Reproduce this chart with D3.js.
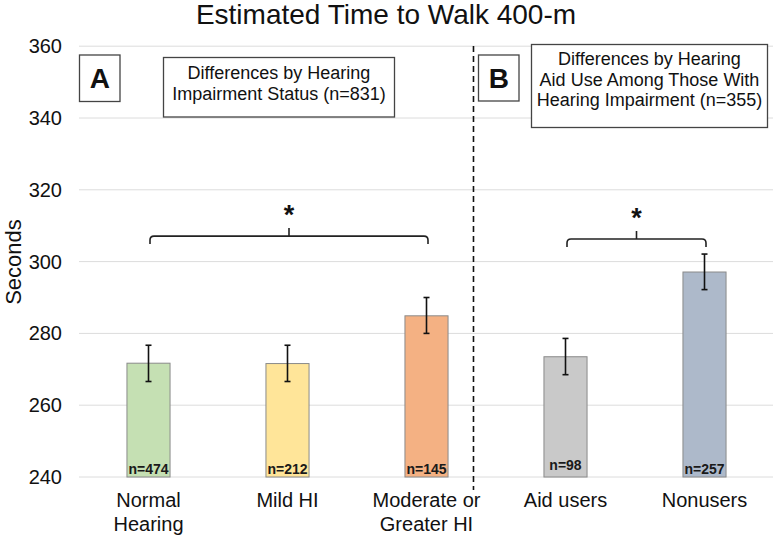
<!DOCTYPE html>
<html>
<head>
<meta charset="utf-8">
<script src="https://cdn.jsdelivr.net/npm/d3@7"></script>
<style>
  html, body { margin: 0; padding: 0; background: #fff; }
  svg { display: block; font-family: "Liberation Sans", Arial, sans-serif; }
</style>
</head>
<body>
<svg id="chart" width="776" height="537"></svg>
<script>
// ---- data ----
const categories = ["Normal Hearing", "Mild HI", "Moderate or Greater HI", "Aid users", "Nonusers"];
const categoryLines = [["Normal", "Hearing"], ["Mild HI"], ["Moderate or", "Greater HI"], ["Aid users"], ["Nonusers"]];
const means = [271.7, 271.6, 284.9, 273.5, 297.1];
const errLow = [266.6, 266.6, 280.0, 268.5, 292.2];
const errHigh = [276.7, 276.7, 290.0, 278.6, 302.1];
const sampleSizes = ["n=474", "n=212", "n=145", "n=98", "n=257"];
const barColors = ["#c5e0b3", "#ffe599", "#f4b183", "#c9c9c9", "#adb9ca"];
const yTicks = [240, 260, 280, 300, 320, 340, 360];
const comparisons = [
  { from: "Normal Hearing", to: "Moderate or Greater HI", level: 307.1, label: "*" },
  { from: "Aid users", to: "Nonusers", level: 306.3, label: "*" }
];
const title = "Estimated Time to Walk 400-m";
const yLabel = "Seconds";
const panelA = { letter: "A", lines: ["Differences by Hearing", "Impairment Status (n=831)"] };
const panelB = { letter: "B", lines: ["Differences by Hearing", "Aid Use Among Those With", "Hearing Impairment (n=355)"] };

// ---- layout ----
const svg = d3.select("#chart");
const mLeft = 79, mRight = 774, mTop = 46.2, mBottom = 477;

const x = d3.scaleBand().domain(categories).range([mLeft, mRight])
  .paddingInner(0.69).paddingOuter(0.345);
const y = d3.scaleLinear().domain([240, 360]).range([mBottom, mTop]);
const cx = c => x(c) + x.bandwidth() / 2;

// title
svg.append("text").attr("x", 386).attr("y", 23.5).attr("text-anchor", "middle")
  .attr("font-size", 28).attr("fill", "#111").text(title);

// gridlines
svg.append("g").selectAll("line").data(yTicks).join("line")
  .attr("x1", mLeft).attr("x2", 773)
  .attr("y1", d => y(d)).attr("y2", d => y(d))
  .attr("stroke", "#dcdcdc").attr("stroke-width", 1);

// y axis
const yAxis = svg.append("g").attr("transform", `translate(${mLeft},0)`)
  .call(d3.axisLeft(y).tickValues(yTicks).tickSize(0).tickPadding(17).tickFormat(d3.format("d")));
yAxis.select(".domain").remove();
yAxis.selectAll("text").attr("font-size", 20).attr("fill", "#111")
  .attr("font-family", "Liberation Sans, Arial, sans-serif");

// y label
svg.append("text").attr("transform", `translate(21,262) rotate(-90)`)
  .attr("text-anchor", "middle").attr("font-size", 22).attr("fill", "#111").text(yLabel);

// bars
svg.append("g").selectAll("rect").data(categories).join("rect")
  .attr("x", d => x(d)).attr("width", x.bandwidth())
  .attr("y", (d, i) => y(means[i])).attr("height", (d, i) => y(240) - y(means[i]))
  .attr("fill", (d, i) => barColors[i]).attr("stroke", "#8a8a8a").attr("stroke-width", 1);

// error bars
const eb = svg.append("g").attr("stroke", "#111").attr("stroke-width", 1.6);
categories.forEach((c, i) => {
  const xc = cx(c);
  eb.append("line").attr("x1", xc).attr("x2", xc).attr("y1", y(errLow[i])).attr("y2", y(errHigh[i]));
  eb.append("line").attr("x1", xc - 3).attr("x2", xc + 3).attr("y1", y(errLow[i])).attr("y2", y(errLow[i]));
  eb.append("line").attr("x1", xc - 3).attr("x2", xc + 3).attr("y1", y(errHigh[i])).attr("y2", y(errHigh[i]));
});

// n labels
svg.append("g").selectAll("text").data(categories).join("text")
  .attr("x", d => cx(d)).attr("y", (d, i) => y(240) - (i === 3 ? 7 : 3))
  .attr("text-anchor", "middle").attr("font-size", 14).attr("font-weight", "bold")
  .attr("fill", "#1a1a1a").text((d, i) => sampleSizes[i]);

// category labels
const xl = svg.append("g");
categories.forEach((c, i) => {
  const t = xl.append("text").attr("x", cx(c)).attr("y", 507)
    .attr("text-anchor", "middle").attr("font-size", 20).attr("fill", "#111");
  categoryLines[i].forEach((ln, j) => {
    t.append("tspan").attr("x", cx(c)).attr("dy", j === 0 ? 0 : 24).text(ln);
  });
});

// dashed divider
const divX = cx("Moderate or Greater HI") + x.step() * 0.338;
svg.append("line").attr("x1", divX).attr("x2", divX).attr("y1", 46).attr("y2", 490)
  .attr("stroke", "#111").attr("stroke-width", 1.6).attr("stroke-dasharray", "6,4");

// significance brackets
const br = svg.append("g");
comparisons.forEach(cmp => {
  const x1 = cx(cmp.from) + 1.5, x2 = cx(cmp.to) + 1.5;
  const yy = y(cmp.level), r = 4, drop = 8, mid = (x1 + x2) / 2;
  const p = d3.path();
  p.moveTo(x1, yy + drop);
  p.lineTo(x1, yy + r);
  p.quadraticCurveTo(x1, yy, x1 + r, yy);
  p.lineTo(x2 - r, yy);
  p.quadraticCurveTo(x2, yy, x2, yy + r);
  p.lineTo(x2, yy + drop);
  p.moveTo(mid, yy);
  p.lineTo(mid, yy - 8);
  br.append("path").attr("d", p.toString()).attr("fill", "none")
    .attr("stroke", "#222").attr("stroke-width", 1.6);
  br.append("text").attr("x", mid).attr("y", yy - 12).attr("text-anchor", "middle")
    .attr("font-size", 27).attr("font-weight", "bold").attr("fill", "#111").text(cmp.label);
});

// panel boxes
function letterBox(x0, y0, w, h, letter) {
  svg.append("rect").attr("x", x0).attr("y", y0).attr("width", w).attr("height", h)
    .attr("fill", "#fff").attr("stroke", "#444").attr("stroke-width", 1.3);
  svg.append("text").attr("x", x0 + w / 2).attr("y", y0 + h / 2 + 10).attr("text-anchor", "middle")
    .attr("font-size", 28).attr("font-weight", "bold").attr("fill", "#111").text(letter);
}
function textBox(x0, y0, w, h, lines, firstBase, lh) {
  svg.append("rect").attr("x", x0).attr("y", y0).attr("width", w).attr("height", h)
    .attr("fill", "#fff").attr("stroke", "#444").attr("stroke-width", 1.3);
  const t = svg.append("text").attr("text-anchor", "middle").attr("font-size", 18).attr("fill", "#111");
  lines.forEach((ln, j) => {
    t.append("tspan").attr("x", x0 + w / 2).attr("y", firstBase + j * lh).text(ln);
  });
}
letterBox(79.5, 55, 40.5, 46.5, panelA.letter);
textBox(163.5, 57.5, 231, 59.5, panelA.lines, 79, 20.5);
letterBox(478.5, 55, 40.5, 46, panelB.letter);
textBox(531.5, 44.5, 236, 83, panelB.lines, 65, 20.7);
</script>
</body>
</html>
